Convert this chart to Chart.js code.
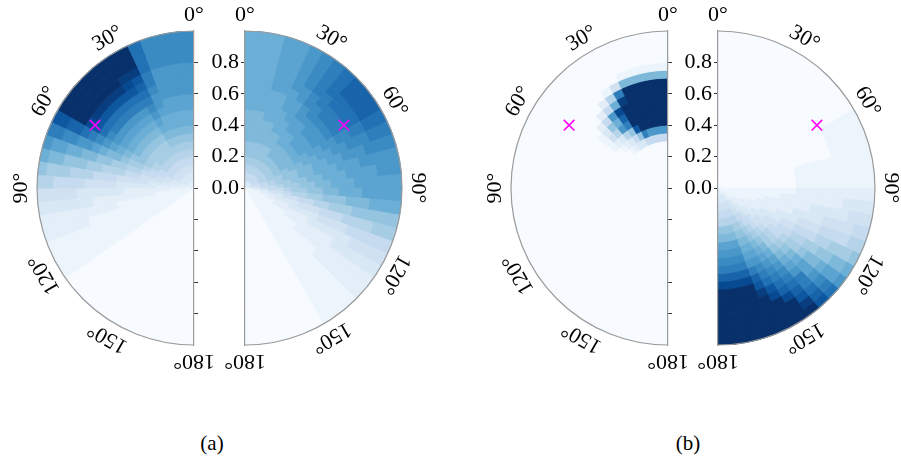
<!DOCTYPE html>
<html><head><meta charset="utf-8">
<script src="https://cdn.jsdelivr.net/npm/chart.js"></script>
<style>
html,body{margin:0;padding:0;background:#fff;overflow:hidden;}
#fig{position:relative;width:901px;height:456px;overflow:hidden;background:#fff;}
#fig canvas{position:absolute;}
.cap{position:absolute;width:60px;text-align:center;font:21px "Liberation Serif",serif;line-height:24px;color:#000;}
</style></head><body>
<div id="fig">
<div class="cap" style="left:182px;top:431px">(a)</div>
<div class="cap" style="left:658px;top:431px">(b)</div>
</div>
<script>
// ---- data ----
const thetaEdges = [0,5,10,15,20,25,30,35,40,45,50,55,60,65,70,75,80,85,90,95,100,105,110,115,120,125,130,135,140,145,150,155,160,165,170,175,180];
const rEdges = [0,0.05,0.1,0.15,0.2,0.25,0.3,0.35,0.4,0.45,0.5,0.55,0.6,0.65,0.7,0.75,0.8,0.85,0.9,0.95,1.0];
const rTicksLabeled = [0,0.2,0.4,0.6,0.8];
const rTicksAll = [-0.8,-0.6,-0.4,-0.2,0,0.2,0.4,0.6,0.8];
const thetaTicks = [0,30,60,90,120,150,180];
const markerXY = [0.63,0.40];
// cell levels: one string per ring (inner -> outer), one char per theta bin (0..180), '0'..'k' = 0..1
const levelChars = '0123456789abcdefghijk';
const heatALeft = [
"222222222222222211111111100000000000",
"333333333333332222111111100000000000",
"444444444444433322111111100000000000",
"555555555555544332211111100000000000",
"666666666666554432211111100000000000",
"777777777776655433221111100000000000",
"888888777777765443221111100000000000",
"999999888888876543221111100000000000",
"aaaaaa999999876543221111100000000000",
"aaaaabaaaaaa987643321111100000000000",
"bbbbbcbbbbbba97654322111100000000000",
"bbbbcdccccccb98654322111100000000000",
"ccccceeeeeedca8754322111100000000000",
"ccccdfffffffdb9764332111100000000000",
"cccceghhhhhhec9865332211100000000000",
"ccccehijjjjifca865432211100000000000",
"ddddfjjkkkkkgda875432211100000000000",
"ddddfkkkkkkkgdb975432211100000000000",
"ddddfkkkkkkkheb976432211100000000000",
"ddddfkkkkkkkheca86432211100000000000"
];
const heatARight = [
"333333333333333333221111111111000000",
"555555555555555444322111111111000000",
"666666666666666555432211111111000000",
"777777777777777665543221111111000000",
"888888888888887776543322111111000000",
"888888899999988877654322111111000000",
"999999999999998887764332211111000000",
"9999999aaaaaa99988765432211111000000",
"99999aaaabbbaa9998875432221111000000",
"999aaaabbbbbbaaa99876433221111000000",
"aaaaaabbbcccbbaaa9986543221111000000",
"aaaaabbccccccbbaaa987543221111000000",
"aaaaabbcddddccbbaaa87543222111000000",
"aaabbbcddeeedccbbaa97643322111000000",
"aaabbccdeeeeddcbbba98653322111000000",
"aaabbcdeefffedccbbb98654322111000000",
"aaabbcdeffffeddcbbba8654322111000000",
"aaabbcdefgggfedccbba8754322111000000",
"aaabbcdefgggfedccbba8754322111000000",
"aaabbcdefgggfedccbba8754322111000000"
];
const heatBLeft = [
"000000000000000000000000000000000000",
"000000000000000000000000000000000000",
"000000000000000000000000000000000000",
"000000000000000000000000000000000000",
"000000000000000000000000000000000000",
"000000000000000000000000000000000000",
"555553321000000000000000000000000000",
"cccce85321000000000000000000000000000",
"kkkkkh86321000000000000000000000000000",
"kkkkkkec641000000000000000000000000000",
"kkkkkkga831000000000000000000000000000",
"kkkkkkic5200000000000000000000000000000",
"kkkkkja52000000000000000000000000000",
"kkkkke62000000000000000000000000000",
"9999941000000000000000000000000000000",
"111110000000000000000000000000000000",
"000000000000000000000000000000000000",
"000000000000000000000000000000000000",
"000000000000000000000000000000000000",
"000000000000000000000000000000000000"
];
const heatBRight = [
"000000000000000000111111111122222222",
"000000000000000000111111112223333333",
"000000000000000000111111222334444444",
"000000000000000000111112223344555555",
"000000000000000000111122233455666666",
"000000000000000000111222334556778888",
"000000000000000000112223344567889999",
"00000000000000000011222344567899bbbb",
"000000000000000000122233456789aacccc",
"00000000000000000012223455679abbdddd",
"0000000000000001112223345678abcceeee",
"0000000000000001112223456789bcdegggg",
"000000000000000111223345679acdegiiii",
"00000000000000011122334578abdefhkkkk",
"00000000000000011122345679bcefhjkkkk",
"00000000000011111122345689befgikkkkk",
"0000000000001111112334578acegikkkkkk",
"0000000000001111112344579bdfhkkkkkkk",
"0000000000001111112345679begjkkkkkkk",
"000000000000111111234568acfhkkkkkkkk"
];

// ---- layout / style ----
const R = 157, CY = 188, M = 45;
const panels = [
  {heat: heatALeft,  cx: 194, side: -1},
  {heat: heatARight, cx: 245, side:  1},
  {heat: heatBLeft,  cx: 668, side: -1},
  {heat: heatBRight, cx: 718, side:  1}
];
const SERIF = '"Liberation Serif", "DejaVu Serif", serif';
const bluesStops = [[247,251,255],[222,235,247],[198,219,239],[158,202,225],[107,174,214],[66,146,198],[33,113,181],[8,81,156],[8,48,107]];
function blues(v){
  v = Math.max(0, Math.min(1, v));
  const p = v*(bluesStops.length-1);
  const i = Math.min(bluesStops.length-2, Math.floor(p));
  const f = p - i, a = bluesStops[i], b = bluesStops[i+1];
  return 'rgb(' + [0,1,2].map(k => Math.round(a[k] + (b[k]-a[k])*f)).join(',') + ')';
}
function levelOf(ch){ const k = levelChars.indexOf(ch); return k < 0 ? 0 : k/(levelChars.length-1); }
const fig = document.getElementById('fig');
function addCanvas(left, top, w, h){
  const c = document.createElement('canvas');
  c.width = w; c.height = h;
  c.style.left = left+'px'; c.style.top = top+'px';
  c.style.width = w+'px'; c.style.height = h+'px';
  fig.appendChild(c);
  return c;
}

// ---- heatmap cells: one pie ring per radial bin, one slice per theta bin ----
const nb = thetaEdges.length - 1;
panels.forEach(p => {
  const idx = [...Array(nb).keys()];
  const order = p.side > 0 ? idx : idx.slice().reverse();
  const datasets = [];
  for (let i = p.heat.length - 1; i >= 0; i--) {
    const row = p.heat[i];
    const cols = order.map(j => blues(levelOf(row.charAt(j))));
    datasets.push({
      data: order.map(j => thetaEdges[j+1] - thetaEdges[j]),
      backgroundColor: cols, borderColor: cols, borderWidth: 1,
      weight: rEdges[i+1] - rEdges[i]
    });
  }
  const c = addCanvas(p.side > 0 ? p.cx : p.cx - R, CY - R, R, 2*R);
  new Chart(c, {
    type: 'pie',
    data: {datasets},
    options: {
      responsive: false, animation: false, events: [],
      radius: R, rotation: p.side > 0 ? 0 : 180, circumference: 180,
      layout: {padding: 0},
      plugins: {legend: {display: false}, tooltip: {enabled: false}}
    }
  });
});

// ---- frames, axes, angle labels, marker ----
panels.forEach(p => {
  const side = p.side;
  const frame = {
    id: 'frame',
    afterDraw(chart){
      const {ctx} = chart, xs = chart.scales.x, ys = chart.scales.y;
      const cx = xs.getPixelForValue(0), cy = ys.getPixelForValue(0);
      const rad = cy - ys.getPixelForValue(1);
      ctx.save();
      ctx.strokeStyle = '#9a9a9a'; ctx.lineWidth = 1.2;
      ctx.beginPath();
      if (side > 0) ctx.arc(cx, cy, rad, -Math.PI/2, Math.PI/2);
      else ctx.arc(cx, cy, rad, Math.PI/2, 3*Math.PI/2);
      ctx.stroke();
      ctx.fillStyle = '#000';
      ctx.font = '22px ' + SERIF;
      ctx.textAlign = 'center'; ctx.textBaseline = 'middle';
      thetaTicks.forEach(t => {
        const a = t*Math.PI/180, rl = rad*1.1;
        ctx.save();
        ctx.translate(cx + side*Math.sin(a)*rl, cy - Math.cos(a)*rl);
        ctx.rotate(side*a);
        ctx.fillText(t + '°', 0, 0);
        ctx.restore();
      });
      ctx.restore();
    }
  };
  const left = side > 0 ? p.cx - M : p.cx - R - M;
  const c = addCanvas(left, CY - R - M, R + 2*M, 2*R + 2*M);
  new Chart(c, {
    type: 'scatter',
    data: {datasets: [{
      data: [{x: side*markerXY[0], y: markerXY[1]}],
      pointStyle: 'crossRot', pointRadius: 7.5, pointBorderWidth: 1.6,
      pointBorderColor: '#ff00ff', borderColor: '#ff00ff', backgroundColor: '#ff00ff'
    }]},
    options: {
      responsive: false, animation: false, events: [],
      layout: {padding: {top: M, bottom: M, left: side > 0 ? 0 : M, right: side > 0 ? M : 0}},
      plugins: {legend: {display: false}, tooltip: {enabled: false}},
      scales: {
        x: {type: 'linear', display: false, min: side > 0 ? 0 : -1, max: side > 0 ? 1 : 0},
        y: {
          type: 'linear', min: -1, max: 1, position: side > 0 ? 'left' : 'right',
          afterFit: s => { s.width = M; },
          afterBuildTicks: s => { s.ticks = (side > 0 ? rTicksLabeled : rTicksAll).map(v => ({value: v})); },
          ticks: {display: side > 0, callback: v => Number(v).toFixed(1), color: '#000',
                  font: {family: SERIF, size: 22}, padding: 2},
          grid: {drawOnChartArea: false, drawTicks: true, tickLength: 4, color: '#333', lineWidth: 1},
          border: {display: true, color: '#9a9a9a', width: 1.2}
        }
      }
    },
    plugins: [frame]
  });
});
</script>
</body></html>
